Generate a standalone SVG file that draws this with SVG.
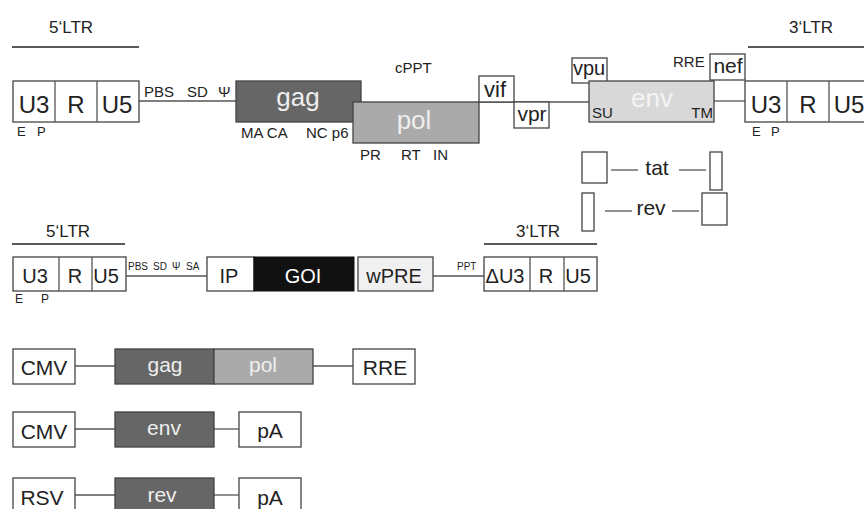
<svg xmlns="http://www.w3.org/2000/svg" width="864" height="509" viewBox="0 0 864 509">
<style>
text{font-family:"Liberation Sans",Arial,sans-serif;fill:#222}
.b{fill:#fff;stroke:#444;stroke-width:1.3}
.ln{stroke:#555;stroke-width:1.3;fill:none}
.big{font-size:24px;text-anchor:middle}
.gene{font-size:26px;text-anchor:middle;fill:#eee}
.acc{text-anchor:middle}
.r2{font-size:20px;text-anchor:middle}
.bot{font-size:21px;text-anchor:middle}
.sm{font-size:15px}
.ep{font-size:13px}
.ep2{font-size:12px}
.tiny{font-size:10px}
.ttl{font-size:17px;text-anchor:middle}
.w{fill:#eee}
</style>
<rect width="864" height="509" fill="#fff"/>
<g id="connectors">
<line class="ln" x1="139" y1="101" x2="236" y2="101"/>
<line class="ln" x1="479" y1="102" x2="589" y2="102"/>
<line class="ln" x1="714" y1="101" x2="745" y2="101"/>
<line class="ln" x1="611" y1="170" x2="638" y2="170"/>
<line class="ln" x1="679" y1="170" x2="706" y2="170"/>
<line class="ln" x1="605" y1="211" x2="632" y2="211"/>
<line class="ln" x1="672" y1="211" x2="699" y2="211"/>
<line class="ln" x1="126" y1="276" x2="207" y2="276"/>
<line class="ln" x1="433" y1="276" x2="484" y2="276"/>
<line class="ln" x1="75" y1="366" x2="115" y2="366"/>
<line class="ln" x1="313" y1="366" x2="353" y2="366"/>
<line class="ln" x1="75" y1="429" x2="115" y2="429"/>
<line class="ln" x1="214" y1="429" x2="239" y2="429"/>
<line class="ln" x1="75" y1="495" x2="115" y2="495"/>
<line class="ln" x1="214" y1="495" x2="239" y2="495"/>
<line stroke="#222" stroke-width="1.3" x1="12" y1="47" x2="139" y2="47"/>
<line stroke="#222" stroke-width="1.3" x1="748" y1="47" x2="864" y2="47"/>
<line stroke="#222" stroke-width="1.3" x1="12" y1="244" x2="125" y2="244"/>
<line stroke="#222" stroke-width="1.3" x1="484" y1="244" x2="597" y2="244"/>
</g>
<g id="ltr5-top">
<text class="ttl" x="71" y="33">5‘LTR</text>
<rect class="b" x="13" y="81" width="126" height="41"/>
<line class="ln" x1="55" y1="81" x2="55" y2="122"/>
<line class="ln" x1="97" y1="81" x2="97" y2="122"/>
<text class="big" x="34" y="113">U3</text>
<text class="big" x="76" y="113">R</text>
<text class="big" x="117" y="113">U5</text>
<text class="ep" x="17" y="136">E</text>
<text class="ep" x="37" y="136">P</text>
<text class="sm" x="144" y="97">PBS</text>
<text class="sm" x="187" y="97">SD</text>
<text class="sm" x="218" y="97">Ψ</text>
</g>
<g id="gag-top">
<rect x="236" y="81" width="125" height="41" fill="#666" stroke="#444" stroke-width="1.3"/>
<text class="gene" x="298" y="106">gag</text>
<text class="sm" x="241" y="138">MA CA</text>
<text class="sm" x="306" y="138">NC p6</text>
</g>
<g id="pol-top">
<rect x="353" y="102" width="126" height="41" fill="#aaa" stroke="#444" stroke-width="1.3"/>
<text class="gene" x="414" y="129">pol</text>
<text class="sm" x="360" y="160">PR</text>
<text class="sm" x="401" y="160">RT</text>
<text class="sm" x="433" y="160">IN</text>
<text class="sm" x="395" y="73">cPPT</text>
</g>
<g id="vif"><rect class="b" x="479" y="76" width="35" height="26"/><text class="acc" font-size="22" x="495" y="97">vif</text></g>
<g id="vpr"><rect class="b" x="514" y="102" width="35" height="26"/><text class="acc" font-size="21" x="532" y="121">vpr</text></g>
<g id="vpu"><rect class="b" x="572" y="58" width="35" height="25"/><text class="acc" font-size="20" x="589" y="75">vpu</text></g>
<g id="env-top">
<rect x="589" y="81" width="125" height="41" fill="#d8d8d8" stroke="#444" stroke-width="1.3"/>
<text class="gene" x="652" y="107" style="fill:#f4f4f4">env</text>
<text class="sm" x="592" y="118">SU</text>
<text class="sm" x="713" y="118" text-anchor="end">TM</text>
<text class="sm" x="673" y="67">RRE</text>
</g>
<g id="nef"><rect class="b" x="710" y="54" width="35" height="26"/><text class="acc" font-size="21" x="728" y="73">nef</text></g>
<g id="ltr3-top">
<text class="ttl" x="811" y="33">3‘LTR</text>
<rect class="b" x="745" y="81" width="130" height="41"/>
<line class="ln" x1="787" y1="81" x2="787" y2="122"/>
<line class="ln" x1="829" y1="81" x2="829" y2="122"/>
<text class="big" x="766" y="113">U3</text>
<text class="big" x="808" y="113">R</text>
<text class="big" x="849" y="113">U5</text>
<text class="ep" x="752" y="136">E</text>
<text class="ep" x="771" y="136">P</text>
</g>
<g id="tat">
<rect class="b" x="582" y="152" width="25" height="31"/>
<text class="acc" font-size="21" x="657" y="175">tat</text>
<rect class="b" x="710" y="152" width="12" height="38"/>
</g>
<g id="rev">
<rect class="b" x="582" y="193" width="12" height="38"/>
<text class="acc" font-size="21" x="651" y="215">rev</text>
<rect class="b" x="702" y="193" width="25" height="32"/>
</g>
<g id="ltr5-vec">
<text class="ttl" x="68" y="237">5‘LTR</text>
<rect class="b" x="13" y="257" width="113" height="34"/>
<line class="ln" x1="59" y1="257" x2="59" y2="291"/>
<line class="ln" x1="92" y1="257" x2="92" y2="291"/>
<text class="r2" x="35" y="283">U3</text>
<text class="r2" x="75" y="283">R</text>
<text class="r2" x="106" y="283">U5</text>
<text class="ep2" x="15" y="303">E</text>
<text class="ep2" x="41" y="303">P</text>
<text class="tiny" x="128" y="270">PBS</text>
<text class="tiny" x="153" y="270">SD</text>
<text class="tiny" x="172" y="270">Ψ</text>
<text class="tiny" x="186" y="270">SA</text>
</g>
<g id="ip"><rect class="b" x="207" y="257" width="47" height="34"/><text class="r2" x="229" y="283">IP</text></g>
<g id="goi"><rect x="254" y="257" width="100" height="34" fill="#111" stroke="#111"/><text class="r2" x="303" y="283" style="fill:#fff">GOI</text></g>
<g id="wpre"><rect x="358" y="257" width="75" height="34" fill="#f0f0f0" stroke="#444" stroke-width="1.3"/><text class="r2" x="394" y="283">wPRE</text></g>
<g id="ltr3-vec">
<text class="tiny" x="457" y="270">PPT</text>
<text class="ttl" x="538" y="237">3‘LTR</text>
<rect class="b" x="484" y="257" width="113" height="34"/>
<line class="ln" x1="530" y1="257" x2="530" y2="291"/>
<line class="ln" x1="564" y1="257" x2="564" y2="291"/>
<text class="r2" x="505" y="283">ΔU3</text>
<text class="r2" x="546" y="283">R</text>
<text class="r2" x="578" y="283">U5</text>
</g>
<g id="cmv1"><rect class="b" x="13" y="349" width="62" height="35"/><text class="bot" x="44" y="375">CMV</text></g>
<g id="gagpol">
<rect x="115" y="349" width="99" height="35" fill="#666" stroke="#444" stroke-width="1.3"/>
<rect x="214" y="349" width="99" height="35" fill="#aaa" stroke="#444" stroke-width="1.3"/>
<text class="bot w" x="165" y="372">gag</text>
<text class="bot w" x="263" y="372">pol</text>
</g>
<g id="rre"><rect class="b" x="353" y="349" width="62" height="35"/><text class="bot" x="385" y="375">RRE</text></g>
<g id="cmv2"><rect class="b" x="13" y="412" width="62" height="35"/><text class="bot" x="44" y="439">CMV</text></g>
<g id="env2"><rect x="115" y="412" width="99" height="35" fill="#666" stroke="#444" stroke-width="1.3"/><text class="bot w" x="164" y="435">env</text></g>
<g id="pa1"><rect class="b" x="239" y="412" width="62" height="35"/><text class="bot" x="270" y="438">pA</text></g>
<g id="rsv"><rect class="b" x="13" y="478" width="62" height="35"/><text class="bot" x="42" y="505">RSV</text></g>
<g id="rev2"><rect x="115" y="478" width="99" height="35" fill="#666" stroke="#444" stroke-width="1.3"/><text class="bot w" x="162" y="502">rev</text></g>
<g id="pa2"><rect class="b" x="239" y="478" width="62" height="35"/><text class="bot" x="270" y="505">pA</text></g>
</svg>
